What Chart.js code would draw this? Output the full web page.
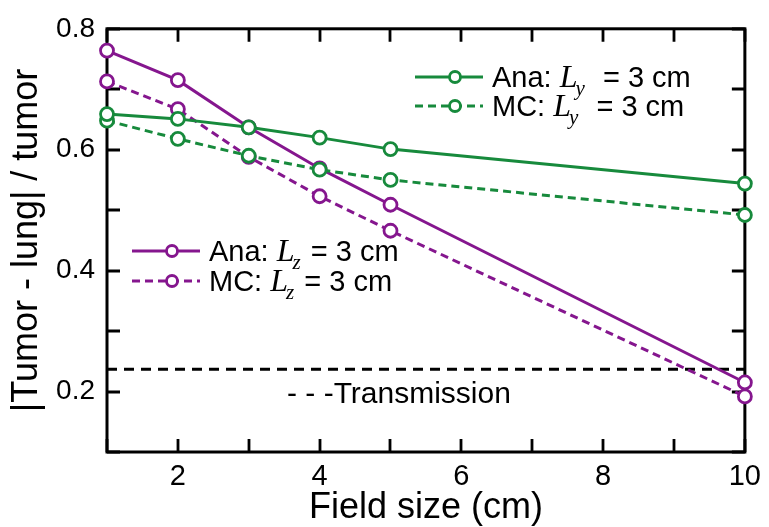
<!DOCTYPE html>
<html>
<head>
<meta charset="utf-8">
<script src="https://cdn.jsdelivr.net/npm/chart.js@4.4.1/dist/chart.umd.min.js"></script>
<style>
  html, body { margin: 0; padding: 0; background: #fff; }
</style>
</head>
<body>
<canvas id="chart" width="769" height="527"></canvas>
<script>
// data
const fieldSize = [1, 2, 3, 4, 5, 10];
const anaLy = [0.659, 0.651, 0.637, 0.620, 0.601, 0.544];
const mcLy = [0.648, 0.618, 0.590, 0.567, 0.550, 0.492];
const anaLz = [0.764, 0.715, 0.637, 0.569, 0.509, 0.215];
const mcLz = [0.713, 0.667, 0.588, 0.523, 0.466, 0.192];
const transmissionX = [1, 10];
const transmission = [0.237, 0.237];

const seriesLabels = ["Ana: Ly = 3 cm", "MC: Ly = 3 cm", "Ana: Lz = 3 cm", "MC: Lz = 3 cm", "Transmission"];
const xTitle = "Field size (cm)";
const yTitle = "|Tumor - lung| / tumor";

const GREEN = "#178a3c";
const PURPLE = "#85168e";
const SANS = "'Liberation Sans', Arial, sans-serif";
const SERIF = "'Liberation Serif', 'Times New Roman', serif";

function pts(xs, ys) {
  return xs.map((x, i) => ({ x: x, y: ys[i] }));
}

function series(label, ys, color, dashed) {
  return {
    label: label,
    data: pts(fieldSize, ys),
    borderColor: color,
    borderWidth: 3,
    borderDash: dashed ? [8, 5] : [],
    pointRadius: 6.5,
    pointBorderWidth: 2.8,
    pointBackgroundColor: "#fff",
    pointBorderColor: color,
    clip: false,
  };
}

// box round the plot, with inward ticks on all four sides
const frameTicks = {
  id: "frameTicks",
  beforeDatasetsDraw(chart) {
    const { ctx, chartArea: a, scales } = chart;
    const len = 13;
    ctx.save();
    ctx.strokeStyle = "#000";
    ctx.lineWidth = 2.8;
    ctx.beginPath();
    scales.y.ticks.forEach((t) => {
      const py = Math.round(scales.y.getPixelForValue(t.value));
      ctx.moveTo(a.left, py);
      ctx.lineTo(a.left + len, py);
      ctx.moveTo(a.right, py);
      ctx.lineTo(a.right - len, py);
    });
    scales.x.ticks.forEach((t) => {
      const px = Math.round(scales.x.getPixelForValue(t.value));
      ctx.moveTo(px, a.bottom);
      ctx.lineTo(px, a.bottom - len);
      ctx.moveTo(px, a.top);
      ctx.lineTo(px, a.top + len);
    });
    ctx.stroke();
    ctx.lineWidth = 3;
    ctx.strokeRect(a.left, a.top, a.right - a.left, a.bottom - a.top);
    ctx.restore();
  },
};

// legend entries with italic L and subscript
const legendRows = [
  { ds: 0, x: 415, y: 77, pre: "Ana: ", sub: "y", post: "  = 3 cm" },
  { ds: 1, x: 415, y: 106, pre: "MC: ", sub: "y", post: "  = 3 cm" },
  { ds: 2, x: 132, y: 251, pre: "Ana: ", sub: "z", post: " = 3 cm" },
  { ds: 3, x: 132, y: 281, pre: "MC: ", sub: "z", post: " = 3 cm" },
];

const richLegend = {
  id: "richLegend",
  afterDraw(chart) {
    const ctx = chart.ctx;
    ctx.save();
    legendRows.forEach((r) => {
      const ds = chart.data.datasets[r.ds];
      const w = 68;
      ctx.strokeStyle = ds.borderColor;
      ctx.lineWidth = 3;
      ctx.setLineDash(ds.borderDash.length ? [8, 5] : []);
      ctx.beginPath();
      ctx.moveTo(r.x, r.y);
      ctx.lineTo(r.x + w, r.y);
      ctx.stroke();
      ctx.setLineDash([]);
      ctx.lineWidth = 2.8;
      ctx.beginPath();
      ctx.arc(r.x + w / 2 + 6, r.y, 5.5, 0, Math.PI * 2);
      ctx.fillStyle = "#fff";
      ctx.fill();
      ctx.stroke();

      let tx = r.x + w + 9;
      ctx.fillStyle = "#000";
      ctx.textBaseline = "alphabetic";
      const base = r.y + 10;
      ctx.font = "29px " + SANS;
      ctx.fillText(r.pre, tx, base);
      tx += ctx.measureText(r.pre).width;
      ctx.font = "italic 32px " + SERIF;
      ctx.fillText("L", tx, base);
      tx += ctx.measureText("L").width;
      ctx.font = "italic 21px " + SERIF;
      ctx.fillText(r.sub, tx - 2, base + 8);
      tx += ctx.measureText(r.sub).width;
      ctx.font = "29px " + SANS;
      ctx.fillText(r.post, tx, base);
    });
    ctx.font = "30px " + SANS;
    ctx.fillStyle = "#000";
    ctx.fillText("- - -" + seriesLabels[4], 287, 403);
    ctx.restore();
  },
};

new Chart(document.getElementById("chart").getContext("2d"), {
  type: "line",
  data: {
    datasets: [
      series(seriesLabels[0], anaLy, GREEN, false),
      series(seriesLabels[1], mcLy, GREEN, true),
      series(seriesLabels[2], anaLz, PURPLE, false),
      series(seriesLabels[3], mcLz, PURPLE, true),
      {
        label: seriesLabels[4],
        data: pts(transmissionX, transmission),
        borderColor: "#000",
        borderWidth: 3,
        borderDash: [10, 7],
        pointRadius: 0,
        clip: false,
      },
    ],
  },
  options: {
    responsive: false,
    animation: false,
    devicePixelRatio: 1,
    layout: { padding: { left: 0, top: 24, right: 17, bottom: 0 } },
    plugins: {
      legend: { display: false },
      tooltip: { enabled: false },
    },
    scales: {
      x: {
        type: "linear",
        min: 1,
        max: 10,
        afterFit: (s) => { s.height = 75; },
        grid: { display: false, drawTicks: false },
        border: { display: false },
        ticks: {
          stepSize: 1,
          autoSkip: false,
          maxRotation: 0,
          padding: 8,
          color: "#000",
          font: { family: SANS, size: 29 },
          callback: (v) => (v % 2 === 0 ? String(v) : ""),
        },
        title: {
          display: true,
          text: xTitle,
          color: "#000",
          font: { family: SANS, size: 36, lineHeight: 1 },
          padding: { top: 0, bottom: 1 },
        },
      },
      y: {
        min: 0.1,
        max: 0.8,
        afterFit: (s) => { s.width = 107; },
        grid: { display: false, drawTicks: false },
        border: { display: false },
        ticks: {
          stepSize: 0.1,
          autoSkip: false,
          padding: 12,
          color: "#000",
          font: { family: SANS, size: 28 },
          callback: (v) => (Math.round(v * 10) % 2 === 0 ? v.toFixed(1) : ""),
        },
        title: {
          display: true,
          text: yTitle,
          color: "#000",
          font: { family: SANS, size: 36, lineHeight: 1 },
          padding: { top: 9, bottom: 0 },
        },
      },
    },
  },
  plugins: [frameTicks, richLegend],
});
</script>
</body>
</html>
